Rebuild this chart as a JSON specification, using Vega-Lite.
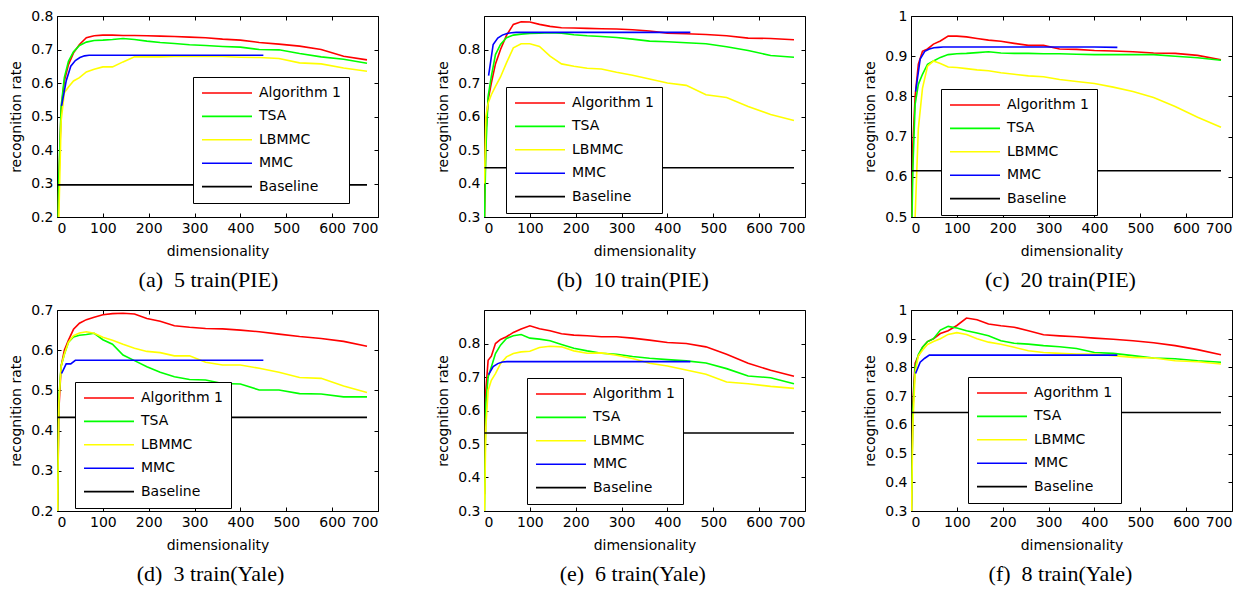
{
"$schema": "https://vega.github.io/schema/vega-lite/v6.json",
"background": "white",
"padding": {"left": 9, "top": 8, "right": 5, "bottom": 5},
"datasets": {"rates": [
{"panel":"a","method":"Algorithm 1","dim":1,"rate":0.1},{"panel":"a","method":"Algorithm 1","dim":4,"rate":0.3},{"panel":"a","method":"Algorithm 1","dim":9,"rate":0.52},{"panel":"a","method":"Algorithm 1","dim":16,"rate":0.606},{"panel":"a","method":"Algorithm 1","dim":25,"rate":0.655},{"panel":"a","method":"Algorithm 1","dim":36,"rate":0.69},{"panel":"a","method":"Algorithm 1","dim":49,"rate":0.715},{"panel":"a","method":"Algorithm 1","dim":64,"rate":0.735},{"panel":"a","method":"Algorithm 1","dim":81,"rate":0.741},{"panel":"a","method":"Algorithm 1","dim":100,"rate":0.743},{"panel":"a","method":"Algorithm 1","dim":121,"rate":0.743},{"panel":"a","method":"Algorithm 1","dim":144,"rate":0.742},{"panel":"a","method":"Algorithm 1","dim":169,"rate":0.742},{"panel":"a","method":"Algorithm 1","dim":196,"rate":0.741},{"panel":"a","method":"Algorithm 1","dim":225,"rate":0.74},{"panel":"a","method":"Algorithm 1","dim":256,"rate":0.739},{"panel":"a","method":"Algorithm 1","dim":289,"rate":0.737},{"panel":"a","method":"Algorithm 1","dim":324,"rate":0.735},{"panel":"a","method":"Algorithm 1","dim":361,"rate":0.731},{"panel":"a","method":"Algorithm 1","dim":400,"rate":0.728},{"panel":"a","method":"Algorithm 1","dim":441,"rate":0.721},{"panel":"a","method":"Algorithm 1","dim":484,"rate":0.716},{"panel":"a","method":"Algorithm 1","dim":529,"rate":0.71},{"panel":"a","method":"Algorithm 1","dim":576,"rate":0.7},{"panel":"a","method":"Algorithm 1","dim":625,"rate":0.68},{"panel":"a","method":"Algorithm 1","dim":676,"rate":0.669},
{"panel":"a","method":"TSA","dim":1,"rate":0.1},{"panel":"a","method":"TSA","dim":4,"rate":0.32},{"panel":"a","method":"TSA","dim":9,"rate":0.53},{"panel":"a","method":"TSA","dim":16,"rate":0.616},{"panel":"a","method":"TSA","dim":25,"rate":0.665},{"panel":"a","method":"TSA","dim":36,"rate":0.693},{"panel":"a","method":"TSA","dim":49,"rate":0.712},{"panel":"a","method":"TSA","dim":64,"rate":0.722},{"panel":"a","method":"TSA","dim":81,"rate":0.727},{"panel":"a","method":"TSA","dim":100,"rate":0.728},{"panel":"a","method":"TSA","dim":121,"rate":0.73},{"panel":"a","method":"TSA","dim":144,"rate":0.733},{"panel":"a","method":"TSA","dim":169,"rate":0.73},{"panel":"a","method":"TSA","dim":196,"rate":0.725},{"panel":"a","method":"TSA","dim":225,"rate":0.721},{"panel":"a","method":"TSA","dim":256,"rate":0.718},{"panel":"a","method":"TSA","dim":289,"rate":0.714},{"panel":"a","method":"TSA","dim":324,"rate":0.712},{"panel":"a","method":"TSA","dim":361,"rate":0.709},{"panel":"a","method":"TSA","dim":400,"rate":0.707},{"panel":"a","method":"TSA","dim":441,"rate":0.7},{"panel":"a","method":"TSA","dim":484,"rate":0.699},{"panel":"a","method":"TSA","dim":529,"rate":0.688},{"panel":"a","method":"TSA","dim":576,"rate":0.678},{"panel":"a","method":"TSA","dim":625,"rate":0.671},{"panel":"a","method":"TSA","dim":676,"rate":0.659},
{"panel":"a","method":"LBMMC","dim":1,"rate":0.1},{"panel":"a","method":"LBMMC","dim":4,"rate":0.2},{"panel":"a","method":"LBMMC","dim":9,"rate":0.487},{"panel":"a","method":"LBMMC","dim":16,"rate":0.571},{"panel":"a","method":"LBMMC","dim":25,"rate":0.588},{"panel":"a","method":"LBMMC","dim":36,"rate":0.606},{"panel":"a","method":"LBMMC","dim":49,"rate":0.616},{"panel":"a","method":"LBMMC","dim":64,"rate":0.633},{"panel":"a","method":"LBMMC","dim":81,"rate":0.641},{"panel":"a","method":"LBMMC","dim":100,"rate":0.648},{"panel":"a","method":"LBMMC","dim":121,"rate":0.648},{"panel":"a","method":"LBMMC","dim":144,"rate":0.663},{"panel":"a","method":"LBMMC","dim":169,"rate":0.678},{"panel":"a","method":"LBMMC","dim":196,"rate":0.678},{"panel":"a","method":"LBMMC","dim":225,"rate":0.678},{"panel":"a","method":"LBMMC","dim":256,"rate":0.679},{"panel":"a","method":"LBMMC","dim":289,"rate":0.679},{"panel":"a","method":"LBMMC","dim":324,"rate":0.679},{"panel":"a","method":"LBMMC","dim":361,"rate":0.679},{"panel":"a","method":"LBMMC","dim":400,"rate":0.677},{"panel":"a","method":"LBMMC","dim":441,"rate":0.676},{"panel":"a","method":"LBMMC","dim":484,"rate":0.673},{"panel":"a","method":"LBMMC","dim":529,"rate":0.66},{"panel":"a","method":"LBMMC","dim":576,"rate":0.657},{"panel":"a","method":"LBMMC","dim":625,"rate":0.645},{"panel":"a","method":"LBMMC","dim":676,"rate":0.635},
{"panel":"a","method":"MMC","dim":10,"rate":0.532},{"panel":"a","method":"MMC","dim":20,"rate":0.606},{"panel":"a","method":"MMC","dim":30,"rate":0.65},{"panel":"a","method":"MMC","dim":40,"rate":0.667},{"panel":"a","method":"MMC","dim":50,"rate":0.676},{"panel":"a","method":"MMC","dim":60,"rate":0.681},{"panel":"a","method":"MMC","dim":70,"rate":0.683},{"panel":"a","method":"MMC","dim":100,"rate":0.683},{"panel":"a","method":"MMC","dim":200,"rate":0.683},{"panel":"a","method":"MMC","dim":300,"rate":0.683},{"panel":"a","method":"MMC","dim":400,"rate":0.683},{"panel":"a","method":"MMC","dim":450,"rate":0.683},
{"panel":"a","method":"Baseline","dim":1,"rate":0.296},{"panel":"a","method":"Baseline","dim":676,"rate":0.296},

{"panel":"b","method":"Algorithm 1","dim":1,"rate":0.29},{"panel":"b","method":"Algorithm 1","dim":4,"rate":0.55},{"panel":"b","method":"Algorithm 1","dim":9,"rate":0.65},{"panel":"b","method":"Algorithm 1","dim":16,"rate":0.7},{"panel":"b","method":"Algorithm 1","dim":25,"rate":0.757},{"panel":"b","method":"Algorithm 1","dim":36,"rate":0.8},{"panel":"b","method":"Algorithm 1","dim":49,"rate":0.842},{"panel":"b","method":"Algorithm 1","dim":64,"rate":0.875},{"panel":"b","method":"Algorithm 1","dim":81,"rate":0.883},{"panel":"b","method":"Algorithm 1","dim":100,"rate":0.882},{"panel":"b","method":"Algorithm 1","dim":121,"rate":0.875},{"panel":"b","method":"Algorithm 1","dim":144,"rate":0.869},{"panel":"b","method":"Algorithm 1","dim":169,"rate":0.865},{"panel":"b","method":"Algorithm 1","dim":196,"rate":0.864},{"panel":"b","method":"Algorithm 1","dim":225,"rate":0.863},{"panel":"b","method":"Algorithm 1","dim":256,"rate":0.862},{"panel":"b","method":"Algorithm 1","dim":289,"rate":0.861},{"panel":"b","method":"Algorithm 1","dim":324,"rate":0.859},{"panel":"b","method":"Algorithm 1","dim":361,"rate":0.855},{"panel":"b","method":"Algorithm 1","dim":400,"rate":0.849},{"panel":"b","method":"Algorithm 1","dim":441,"rate":0.847},{"panel":"b","method":"Algorithm 1","dim":484,"rate":0.845},{"panel":"b","method":"Algorithm 1","dim":529,"rate":0.841},{"panel":"b","method":"Algorithm 1","dim":576,"rate":0.834},{"panel":"b","method":"Algorithm 1","dim":625,"rate":0.833},{"panel":"b","method":"Algorithm 1","dim":676,"rate":0.829},
{"panel":"b","method":"TSA","dim":1,"rate":0.28},{"panel":"b","method":"TSA","dim":4,"rate":0.5},{"panel":"b","method":"TSA","dim":9,"rate":0.66},{"panel":"b","method":"TSA","dim":16,"rate":0.72},{"panel":"b","method":"TSA","dim":25,"rate":0.785},{"panel":"b","method":"TSA","dim":36,"rate":0.815},{"panel":"b","method":"TSA","dim":49,"rate":0.835},{"panel":"b","method":"TSA","dim":64,"rate":0.843},{"panel":"b","method":"TSA","dim":81,"rate":0.846},{"panel":"b","method":"TSA","dim":100,"rate":0.848},{"panel":"b","method":"TSA","dim":121,"rate":0.849},{"panel":"b","method":"TSA","dim":144,"rate":0.85},{"panel":"b","method":"TSA","dim":169,"rate":0.849},{"panel":"b","method":"TSA","dim":196,"rate":0.844},{"panel":"b","method":"TSA","dim":225,"rate":0.841},{"panel":"b","method":"TSA","dim":256,"rate":0.839},{"panel":"b","method":"TSA","dim":289,"rate":0.836},{"panel":"b","method":"TSA","dim":324,"rate":0.831},{"panel":"b","method":"TSA","dim":361,"rate":0.825},{"panel":"b","method":"TSA","dim":400,"rate":0.823},{"panel":"b","method":"TSA","dim":441,"rate":0.82},{"panel":"b","method":"TSA","dim":484,"rate":0.817},{"panel":"b","method":"TSA","dim":529,"rate":0.808},{"panel":"b","method":"TSA","dim":576,"rate":0.797},{"panel":"b","method":"TSA","dim":625,"rate":0.782},{"panel":"b","method":"TSA","dim":676,"rate":0.777},
{"panel":"b","method":"LBMMC","dim":1,"rate":0.4},{"panel":"b","method":"LBMMC","dim":4,"rate":0.6},{"panel":"b","method":"LBMMC","dim":9,"rate":0.64},{"panel":"b","method":"LBMMC","dim":16,"rate":0.665},{"panel":"b","method":"LBMMC","dim":25,"rate":0.69},{"panel":"b","method":"LBMMC","dim":36,"rate":0.718},{"panel":"b","method":"LBMMC","dim":49,"rate":0.76},{"panel":"b","method":"LBMMC","dim":64,"rate":0.805},{"panel":"b","method":"LBMMC","dim":81,"rate":0.817},{"panel":"b","method":"LBMMC","dim":100,"rate":0.817},{"panel":"b","method":"LBMMC","dim":121,"rate":0.809},{"panel":"b","method":"LBMMC","dim":144,"rate":0.78},{"panel":"b","method":"LBMMC","dim":169,"rate":0.757},{"panel":"b","method":"LBMMC","dim":196,"rate":0.75},{"panel":"b","method":"LBMMC","dim":225,"rate":0.744},{"panel":"b","method":"LBMMC","dim":256,"rate":0.742},{"panel":"b","method":"LBMMC","dim":289,"rate":0.732},{"panel":"b","method":"LBMMC","dim":324,"rate":0.723},{"panel":"b","method":"LBMMC","dim":361,"rate":0.712},{"panel":"b","method":"LBMMC","dim":400,"rate":0.7},{"panel":"b","method":"LBMMC","dim":441,"rate":0.693},{"panel":"b","method":"LBMMC","dim":484,"rate":0.665},{"panel":"b","method":"LBMMC","dim":529,"rate":0.657},{"panel":"b","method":"LBMMC","dim":576,"rate":0.63},{"panel":"b","method":"LBMMC","dim":625,"rate":0.606},{"panel":"b","method":"LBMMC","dim":676,"rate":0.588},
{"panel":"b","method":"MMC","dim":10,"rate":0.722},{"panel":"b","method":"MMC","dim":20,"rate":0.815},{"panel":"b","method":"MMC","dim":30,"rate":0.834},{"panel":"b","method":"MMC","dim":40,"rate":0.843},{"panel":"b","method":"MMC","dim":50,"rate":0.848},{"panel":"b","method":"MMC","dim":60,"rate":0.85},{"panel":"b","method":"MMC","dim":70,"rate":0.851},{"panel":"b","method":"MMC","dim":100,"rate":0.851},{"panel":"b","method":"MMC","dim":200,"rate":0.851},{"panel":"b","method":"MMC","dim":300,"rate":0.851},{"panel":"b","method":"MMC","dim":400,"rate":0.851},{"panel":"b","method":"MMC","dim":450,"rate":0.851},
{"panel":"b","method":"Baseline","dim":1,"rate":0.447},{"panel":"b","method":"Baseline","dim":676,"rate":0.447},

{"panel":"c","method":"Algorithm 1","dim":1,"rate":0.45},{"panel":"c","method":"Algorithm 1","dim":4,"rate":0.68},{"panel":"c","method":"Algorithm 1","dim":9,"rate":0.8},{"panel":"c","method":"Algorithm 1","dim":16,"rate":0.88},{"panel":"c","method":"Algorithm 1","dim":25,"rate":0.912},{"panel":"c","method":"Algorithm 1","dim":36,"rate":0.918},{"panel":"c","method":"Algorithm 1","dim":49,"rate":0.93},{"panel":"c","method":"Algorithm 1","dim":64,"rate":0.938},{"panel":"c","method":"Algorithm 1","dim":81,"rate":0.95},{"panel":"c","method":"Algorithm 1","dim":100,"rate":0.95},{"panel":"c","method":"Algorithm 1","dim":121,"rate":0.948},{"panel":"c","method":"Algorithm 1","dim":144,"rate":0.944},{"panel":"c","method":"Algorithm 1","dim":169,"rate":0.94},{"panel":"c","method":"Algorithm 1","dim":196,"rate":0.937},{"panel":"c","method":"Algorithm 1","dim":225,"rate":0.932},{"panel":"c","method":"Algorithm 1","dim":256,"rate":0.927},{"panel":"c","method":"Algorithm 1","dim":289,"rate":0.927},{"panel":"c","method":"Algorithm 1","dim":324,"rate":0.918},{"panel":"c","method":"Algorithm 1","dim":361,"rate":0.917},{"panel":"c","method":"Algorithm 1","dim":400,"rate":0.914},{"panel":"c","method":"Algorithm 1","dim":441,"rate":0.913},{"panel":"c","method":"Algorithm 1","dim":484,"rate":0.911},{"panel":"c","method":"Algorithm 1","dim":529,"rate":0.908},{"panel":"c","method":"Algorithm 1","dim":576,"rate":0.907},{"panel":"c","method":"Algorithm 1","dim":625,"rate":0.902},{"panel":"c","method":"Algorithm 1","dim":676,"rate":0.891},
{"panel":"c","method":"TSA","dim":1,"rate":0.42},{"panel":"c","method":"TSA","dim":4,"rate":0.62},{"panel":"c","method":"TSA","dim":9,"rate":0.78},{"panel":"c","method":"TSA","dim":16,"rate":0.83},{"panel":"c","method":"TSA","dim":25,"rate":0.855},{"panel":"c","method":"TSA","dim":36,"rate":0.88},{"panel":"c","method":"TSA","dim":49,"rate":0.888},{"panel":"c","method":"TSA","dim":64,"rate":0.897},{"panel":"c","method":"TSA","dim":81,"rate":0.904},{"panel":"c","method":"TSA","dim":100,"rate":0.906},{"panel":"c","method":"TSA","dim":121,"rate":0.907},{"panel":"c","method":"TSA","dim":144,"rate":0.909},{"panel":"c","method":"TSA","dim":169,"rate":0.911},{"panel":"c","method":"TSA","dim":196,"rate":0.908},{"panel":"c","method":"TSA","dim":225,"rate":0.907},{"panel":"c","method":"TSA","dim":256,"rate":0.907},{"panel":"c","method":"TSA","dim":289,"rate":0.906},{"panel":"c","method":"TSA","dim":324,"rate":0.906},{"panel":"c","method":"TSA","dim":361,"rate":0.905},{"panel":"c","method":"TSA","dim":400,"rate":0.904},{"panel":"c","method":"TSA","dim":441,"rate":0.904},{"panel":"c","method":"TSA","dim":484,"rate":0.904},{"panel":"c","method":"TSA","dim":529,"rate":0.904},{"panel":"c","method":"TSA","dim":576,"rate":0.9},{"panel":"c","method":"TSA","dim":625,"rate":0.896},{"panel":"c","method":"TSA","dim":676,"rate":0.89},
{"panel":"c","method":"LBMMC","dim":1,"rate":0.38},{"panel":"c","method":"LBMMC","dim":4,"rate":0.42},{"panel":"c","method":"LBMMC","dim":9,"rate":0.5},{"panel":"c","method":"LBMMC","dim":16,"rate":0.72},{"panel":"c","method":"LBMMC","dim":25,"rate":0.82},{"panel":"c","method":"LBMMC","dim":36,"rate":0.875},{"panel":"c","method":"LBMMC","dim":49,"rate":0.888},{"panel":"c","method":"LBMMC","dim":64,"rate":0.882},{"panel":"c","method":"LBMMC","dim":81,"rate":0.873},{"panel":"c","method":"LBMMC","dim":100,"rate":0.872},{"panel":"c","method":"LBMMC","dim":121,"rate":0.869},{"panel":"c","method":"LBMMC","dim":144,"rate":0.866},{"panel":"c","method":"LBMMC","dim":169,"rate":0.864},{"panel":"c","method":"LBMMC","dim":196,"rate":0.859},{"panel":"c","method":"LBMMC","dim":225,"rate":0.855},{"panel":"c","method":"LBMMC","dim":256,"rate":0.851},{"panel":"c","method":"LBMMC","dim":289,"rate":0.849},{"panel":"c","method":"LBMMC","dim":324,"rate":0.842},{"panel":"c","method":"LBMMC","dim":361,"rate":0.837},{"panel":"c","method":"LBMMC","dim":400,"rate":0.832},{"panel":"c","method":"LBMMC","dim":441,"rate":0.823},{"panel":"c","method":"LBMMC","dim":484,"rate":0.812},{"panel":"c","method":"LBMMC","dim":529,"rate":0.797},{"panel":"c","method":"LBMMC","dim":576,"rate":0.775},{"panel":"c","method":"LBMMC","dim":625,"rate":0.748},{"panel":"c","method":"LBMMC","dim":676,"rate":0.723},
{"panel":"c","method":"MMC","dim":10,"rate":0.812},{"panel":"c","method":"MMC","dim":20,"rate":0.893},{"panel":"c","method":"MMC","dim":30,"rate":0.912},{"panel":"c","method":"MMC","dim":40,"rate":0.918},{"panel":"c","method":"MMC","dim":50,"rate":0.921},{"panel":"c","method":"MMC","dim":60,"rate":0.922},{"panel":"c","method":"MMC","dim":70,"rate":0.923},{"panel":"c","method":"MMC","dim":100,"rate":0.923},{"panel":"c","method":"MMC","dim":200,"rate":0.923},{"panel":"c","method":"MMC","dim":300,"rate":0.923},{"panel":"c","method":"MMC","dim":400,"rate":0.923},{"panel":"c","method":"MMC","dim":450,"rate":0.922},
{"panel":"c","method":"Baseline","dim":1,"rate":0.615},{"panel":"c","method":"Baseline","dim":676,"rate":0.615},

{"panel":"d","method":"Algorithm 1","dim":1,"rate":0.18},{"panel":"d","method":"Algorithm 1","dim":4,"rate":0.45},{"panel":"d","method":"Algorithm 1","dim":9,"rate":0.56},{"panel":"d","method":"Algorithm 1","dim":16,"rate":0.6},{"panel":"d","method":"Algorithm 1","dim":25,"rate":0.625},{"panel":"d","method":"Algorithm 1","dim":36,"rate":0.652},{"panel":"d","method":"Algorithm 1","dim":49,"rate":0.667},{"panel":"d","method":"Algorithm 1","dim":64,"rate":0.676},{"panel":"d","method":"Algorithm 1","dim":81,"rate":0.682},{"panel":"d","method":"Algorithm 1","dim":100,"rate":0.688},{"panel":"d","method":"Algorithm 1","dim":121,"rate":0.691},{"panel":"d","method":"Algorithm 1","dim":144,"rate":0.692},{"panel":"d","method":"Algorithm 1","dim":169,"rate":0.69},{"panel":"d","method":"Algorithm 1","dim":196,"rate":0.679},{"panel":"d","method":"Algorithm 1","dim":225,"rate":0.672},{"panel":"d","method":"Algorithm 1","dim":256,"rate":0.661},{"panel":"d","method":"Algorithm 1","dim":289,"rate":0.657},{"panel":"d","method":"Algorithm 1","dim":324,"rate":0.654},{"panel":"d","method":"Algorithm 1","dim":361,"rate":0.653},{"panel":"d","method":"Algorithm 1","dim":400,"rate":0.65},{"panel":"d","method":"Algorithm 1","dim":441,"rate":0.646},{"panel":"d","method":"Algorithm 1","dim":484,"rate":0.64},{"panel":"d","method":"Algorithm 1","dim":529,"rate":0.634},{"panel":"d","method":"Algorithm 1","dim":576,"rate":0.629},{"panel":"d","method":"Algorithm 1","dim":625,"rate":0.622},{"panel":"d","method":"Algorithm 1","dim":676,"rate":0.61},
{"panel":"d","method":"TSA","dim":1,"rate":0.18},{"panel":"d","method":"TSA","dim":4,"rate":0.48},{"panel":"d","method":"TSA","dim":9,"rate":0.56},{"panel":"d","method":"TSA","dim":16,"rate":0.59},{"panel":"d","method":"TSA","dim":25,"rate":0.62},{"panel":"d","method":"TSA","dim":36,"rate":0.633},{"panel":"d","method":"TSA","dim":49,"rate":0.637},{"panel":"d","method":"TSA","dim":64,"rate":0.639},{"panel":"d","method":"TSA","dim":81,"rate":0.642},{"panel":"d","method":"TSA","dim":100,"rate":0.626},{"panel":"d","method":"TSA","dim":121,"rate":0.615},{"panel":"d","method":"TSA","dim":144,"rate":0.588},{"panel":"d","method":"TSA","dim":169,"rate":0.574},{"panel":"d","method":"TSA","dim":196,"rate":0.559},{"panel":"d","method":"TSA","dim":225,"rate":0.545},{"panel":"d","method":"TSA","dim":256,"rate":0.534},{"panel":"d","method":"TSA","dim":289,"rate":0.527},{"panel":"d","method":"TSA","dim":324,"rate":0.526},{"panel":"d","method":"TSA","dim":361,"rate":0.517},{"panel":"d","method":"TSA","dim":400,"rate":0.516},{"panel":"d","method":"TSA","dim":441,"rate":0.501},{"panel":"d","method":"TSA","dim":484,"rate":0.501},{"panel":"d","method":"TSA","dim":529,"rate":0.492},{"panel":"d","method":"TSA","dim":576,"rate":0.491},{"panel":"d","method":"TSA","dim":625,"rate":0.484},{"panel":"d","method":"TSA","dim":676,"rate":0.484},
{"panel":"d","method":"LBMMC","dim":1,"rate":0.18},{"panel":"d","method":"LBMMC","dim":4,"rate":0.47},{"panel":"d","method":"LBMMC","dim":9,"rate":0.56},{"panel":"d","method":"LBMMC","dim":16,"rate":0.59},{"panel":"d","method":"LBMMC","dim":25,"rate":0.62},{"panel":"d","method":"LBMMC","dim":36,"rate":0.636},{"panel":"d","method":"LBMMC","dim":49,"rate":0.643},{"panel":"d","method":"LBMMC","dim":64,"rate":0.646},{"panel":"d","method":"LBMMC","dim":81,"rate":0.642},{"panel":"d","method":"LBMMC","dim":100,"rate":0.632},{"panel":"d","method":"LBMMC","dim":121,"rate":0.625},{"panel":"d","method":"LBMMC","dim":144,"rate":0.615},{"panel":"d","method":"LBMMC","dim":169,"rate":0.605},{"panel":"d","method":"LBMMC","dim":196,"rate":0.597},{"panel":"d","method":"LBMMC","dim":225,"rate":0.594},{"panel":"d","method":"LBMMC","dim":256,"rate":0.586},{"panel":"d","method":"LBMMC","dim":289,"rate":0.586},{"panel":"d","method":"LBMMC","dim":324,"rate":0.57},{"panel":"d","method":"LBMMC","dim":361,"rate":0.563},{"panel":"d","method":"LBMMC","dim":400,"rate":0.563},{"panel":"d","method":"LBMMC","dim":441,"rate":0.555},{"panel":"d","method":"LBMMC","dim":484,"rate":0.545},{"panel":"d","method":"LBMMC","dim":529,"rate":0.532},{"panel":"d","method":"LBMMC","dim":576,"rate":0.53},{"panel":"d","method":"LBMMC","dim":625,"rate":0.511},{"panel":"d","method":"LBMMC","dim":676,"rate":0.495},
{"panel":"d","method":"MMC","dim":10,"rate":0.542},{"panel":"d","method":"MMC","dim":20,"rate":0.566},{"panel":"d","method":"MMC","dim":30,"rate":0.566},{"panel":"d","method":"MMC","dim":40,"rate":0.575},{"panel":"d","method":"MMC","dim":50,"rate":0.575},{"panel":"d","method":"MMC","dim":100,"rate":0.575},{"panel":"d","method":"MMC","dim":200,"rate":0.575},{"panel":"d","method":"MMC","dim":300,"rate":0.575},{"panel":"d","method":"MMC","dim":400,"rate":0.575},{"panel":"d","method":"MMC","dim":450,"rate":0.575},
{"panel":"d","method":"Baseline","dim":1,"rate":0.433},{"panel":"d","method":"Baseline","dim":676,"rate":0.433},

{"panel":"e","method":"Algorithm 1","dim":1,"rate":0.35},{"panel":"e","method":"Algorithm 1","dim":4,"rate":0.66},{"panel":"e","method":"Algorithm 1","dim":9,"rate":0.75},{"panel":"e","method":"Algorithm 1","dim":16,"rate":0.762},{"panel":"e","method":"Algorithm 1","dim":25,"rate":0.8},{"panel":"e","method":"Algorithm 1","dim":36,"rate":0.812},{"panel":"e","method":"Algorithm 1","dim":49,"rate":0.82},{"panel":"e","method":"Algorithm 1","dim":64,"rate":0.833},{"panel":"e","method":"Algorithm 1","dim":81,"rate":0.843},{"panel":"e","method":"Algorithm 1","dim":100,"rate":0.853},{"panel":"e","method":"Algorithm 1","dim":121,"rate":0.844},{"panel":"e","method":"Algorithm 1","dim":144,"rate":0.838},{"panel":"e","method":"Algorithm 1","dim":169,"rate":0.829},{"panel":"e","method":"Algorithm 1","dim":196,"rate":0.825},{"panel":"e","method":"Algorithm 1","dim":225,"rate":0.823},{"panel":"e","method":"Algorithm 1","dim":256,"rate":0.82},{"panel":"e","method":"Algorithm 1","dim":289,"rate":0.82},{"panel":"e","method":"Algorithm 1","dim":324,"rate":0.816},{"panel":"e","method":"Algorithm 1","dim":361,"rate":0.81},{"panel":"e","method":"Algorithm 1","dim":400,"rate":0.803},{"panel":"e","method":"Algorithm 1","dim":441,"rate":0.8},{"panel":"e","method":"Algorithm 1","dim":484,"rate":0.79},{"panel":"e","method":"Algorithm 1","dim":529,"rate":0.768},{"panel":"e","method":"Algorithm 1","dim":576,"rate":0.741},{"panel":"e","method":"Algorithm 1","dim":625,"rate":0.72},{"panel":"e","method":"Algorithm 1","dim":676,"rate":0.702},
{"panel":"e","method":"TSA","dim":1,"rate":0.3},{"panel":"e","method":"TSA","dim":4,"rate":0.62},{"panel":"e","method":"TSA","dim":9,"rate":0.7},{"panel":"e","method":"TSA","dim":16,"rate":0.73},{"panel":"e","method":"TSA","dim":25,"rate":0.77},{"panel":"e","method":"TSA","dim":36,"rate":0.795},{"panel":"e","method":"TSA","dim":49,"rate":0.815},{"panel":"e","method":"TSA","dim":64,"rate":0.823},{"panel":"e","method":"TSA","dim":81,"rate":0.827},{"panel":"e","method":"TSA","dim":100,"rate":0.816},{"panel":"e","method":"TSA","dim":121,"rate":0.813},{"panel":"e","method":"TSA","dim":144,"rate":0.808},{"panel":"e","method":"TSA","dim":169,"rate":0.797},{"panel":"e","method":"TSA","dim":196,"rate":0.786},{"panel":"e","method":"TSA","dim":225,"rate":0.778},{"panel":"e","method":"TSA","dim":256,"rate":0.771},{"panel":"e","method":"TSA","dim":289,"rate":0.768},{"panel":"e","method":"TSA","dim":324,"rate":0.761},{"panel":"e","method":"TSA","dim":361,"rate":0.756},{"panel":"e","method":"TSA","dim":400,"rate":0.752},{"panel":"e","method":"TSA","dim":441,"rate":0.748},{"panel":"e","method":"TSA","dim":484,"rate":0.742},{"panel":"e","method":"TSA","dim":529,"rate":0.725},{"panel":"e","method":"TSA","dim":576,"rate":0.703},{"panel":"e","method":"TSA","dim":625,"rate":0.698},{"panel":"e","method":"TSA","dim":676,"rate":0.68},
{"panel":"e","method":"LBMMC","dim":1,"rate":0.28},{"panel":"e","method":"LBMMC","dim":4,"rate":0.55},{"panel":"e","method":"LBMMC","dim":9,"rate":0.66},{"panel":"e","method":"LBMMC","dim":16,"rate":0.69},{"panel":"e","method":"LBMMC","dim":25,"rate":0.71},{"panel":"e","method":"LBMMC","dim":36,"rate":0.74},{"panel":"e","method":"LBMMC","dim":49,"rate":0.76},{"panel":"e","method":"LBMMC","dim":64,"rate":0.77},{"panel":"e","method":"LBMMC","dim":81,"rate":0.775},{"panel":"e","method":"LBMMC","dim":100,"rate":0.777},{"panel":"e","method":"LBMMC","dim":121,"rate":0.788},{"panel":"e","method":"LBMMC","dim":144,"rate":0.792},{"panel":"e","method":"LBMMC","dim":169,"rate":0.79},{"panel":"e","method":"LBMMC","dim":196,"rate":0.778},{"panel":"e","method":"LBMMC","dim":225,"rate":0.771},{"panel":"e","method":"LBMMC","dim":256,"rate":0.772},{"panel":"e","method":"LBMMC","dim":289,"rate":0.765},{"panel":"e","method":"LBMMC","dim":324,"rate":0.755},{"panel":"e","method":"LBMMC","dim":361,"rate":0.741},{"panel":"e","method":"LBMMC","dim":400,"rate":0.733},{"panel":"e","method":"LBMMC","dim":441,"rate":0.721},{"panel":"e","method":"LBMMC","dim":484,"rate":0.708},{"panel":"e","method":"LBMMC","dim":529,"rate":0.685},{"panel":"e","method":"LBMMC","dim":576,"rate":0.68},{"panel":"e","method":"LBMMC","dim":625,"rate":0.672},{"panel":"e","method":"LBMMC","dim":676,"rate":0.666},
{"panel":"e","method":"MMC","dim":10,"rate":0.707},{"panel":"e","method":"MMC","dim":20,"rate":0.731},{"panel":"e","method":"MMC","dim":30,"rate":0.74},{"panel":"e","method":"MMC","dim":40,"rate":0.745},{"panel":"e","method":"MMC","dim":50,"rate":0.746},{"panel":"e","method":"MMC","dim":100,"rate":0.746},{"panel":"e","method":"MMC","dim":200,"rate":0.746},{"panel":"e","method":"MMC","dim":300,"rate":0.746},{"panel":"e","method":"MMC","dim":400,"rate":0.746},{"panel":"e","method":"MMC","dim":450,"rate":0.746},
{"panel":"e","method":"Baseline","dim":1,"rate":0.533},{"panel":"e","method":"Baseline","dim":676,"rate":0.533},

{"panel":"f","method":"Agorithm 1","dim":1,"rate":0.3},{"panel":"f","method":"Agorithm 1","dim":4,"rate":0.68},{"panel":"f","method":"Agorithm 1","dim":9,"rate":0.815},{"panel":"f","method":"Agorithm 1","dim":16,"rate":0.84},{"panel":"f","method":"Agorithm 1","dim":25,"rate":0.87},{"panel":"f","method":"Agorithm 1","dim":36,"rate":0.89},{"panel":"f","method":"Agorithm 1","dim":49,"rate":0.9},{"panel":"f","method":"Agorithm 1","dim":64,"rate":0.918},{"panel":"f","method":"Agorithm 1","dim":81,"rate":0.928},{"panel":"f","method":"Agorithm 1","dim":100,"rate":0.946},{"panel":"f","method":"Agorithm 1","dim":121,"rate":0.972},{"panel":"f","method":"Agorithm 1","dim":144,"rate":0.966},{"panel":"f","method":"Agorithm 1","dim":169,"rate":0.951},{"panel":"f","method":"Agorithm 1","dim":196,"rate":0.945},{"panel":"f","method":"Agorithm 1","dim":225,"rate":0.94},{"panel":"f","method":"Agorithm 1","dim":256,"rate":0.928},{"panel":"f","method":"Agorithm 1","dim":289,"rate":0.914},{"panel":"f","method":"Agorithm 1","dim":324,"rate":0.91},{"panel":"f","method":"Agorithm 1","dim":361,"rate":0.907},{"panel":"f","method":"Agorithm 1","dim":400,"rate":0.902},{"panel":"f","method":"Agorithm 1","dim":441,"rate":0.898},{"panel":"f","method":"Agorithm 1","dim":484,"rate":0.893},{"panel":"f","method":"Agorithm 1","dim":529,"rate":0.886},{"panel":"f","method":"Agorithm 1","dim":576,"rate":0.876},{"panel":"f","method":"Agorithm 1","dim":625,"rate":0.862},{"panel":"f","method":"Agorithm 1","dim":676,"rate":0.844},
{"panel":"f","method":"TSA","dim":1,"rate":0.3},{"panel":"f","method":"TSA","dim":4,"rate":0.65},{"panel":"f","method":"TSA","dim":9,"rate":0.8},{"panel":"f","method":"TSA","dim":16,"rate":0.845},{"panel":"f","method":"TSA","dim":25,"rate":0.87},{"panel":"f","method":"TSA","dim":36,"rate":0.89},{"panel":"f","method":"TSA","dim":49,"rate":0.9},{"panel":"f","method":"TSA","dim":64,"rate":0.93},{"panel":"f","method":"TSA","dim":81,"rate":0.943},{"panel":"f","method":"TSA","dim":100,"rate":0.937},{"panel":"f","method":"TSA","dim":121,"rate":0.928},{"panel":"f","method":"TSA","dim":144,"rate":0.92},{"panel":"f","method":"TSA","dim":169,"rate":0.91},{"panel":"f","method":"TSA","dim":196,"rate":0.893},{"panel":"f","method":"TSA","dim":225,"rate":0.884},{"panel":"f","method":"TSA","dim":256,"rate":0.881},{"panel":"f","method":"TSA","dim":289,"rate":0.876},{"panel":"f","method":"TSA","dim":324,"rate":0.872},{"panel":"f","method":"TSA","dim":361,"rate":0.866},{"panel":"f","method":"TSA","dim":400,"rate":0.852},{"panel":"f","method":"TSA","dim":441,"rate":0.849},{"panel":"f","method":"TSA","dim":484,"rate":0.841},{"panel":"f","method":"TSA","dim":529,"rate":0.833},{"panel":"f","method":"TSA","dim":576,"rate":0.83},{"panel":"f","method":"TSA","dim":625,"rate":0.823},{"panel":"f","method":"TSA","dim":676,"rate":0.818},
{"panel":"f","method":"LBMMC","dim":1,"rate":0.28},{"panel":"f","method":"LBMMC","dim":4,"rate":0.6},{"panel":"f","method":"LBMMC","dim":9,"rate":0.78},{"panel":"f","method":"LBMMC","dim":16,"rate":0.84},{"panel":"f","method":"LBMMC","dim":25,"rate":0.86},{"panel":"f","method":"LBMMC","dim":36,"rate":0.88},{"panel":"f","method":"LBMMC","dim":49,"rate":0.89},{"panel":"f","method":"LBMMC","dim":64,"rate":0.9},{"panel":"f","method":"LBMMC","dim":81,"rate":0.915},{"panel":"f","method":"LBMMC","dim":100,"rate":0.921},{"panel":"f","method":"LBMMC","dim":121,"rate":0.915},{"panel":"f","method":"LBMMC","dim":144,"rate":0.9},{"panel":"f","method":"LBMMC","dim":169,"rate":0.888},{"panel":"f","method":"LBMMC","dim":196,"rate":0.881},{"panel":"f","method":"LBMMC","dim":225,"rate":0.87},{"panel":"f","method":"LBMMC","dim":256,"rate":0.858},{"panel":"f","method":"LBMMC","dim":289,"rate":0.852},{"panel":"f","method":"LBMMC","dim":324,"rate":0.849},{"panel":"f","method":"LBMMC","dim":361,"rate":0.847},{"panel":"f","method":"LBMMC","dim":400,"rate":0.847},{"panel":"f","method":"LBMMC","dim":441,"rate":0.841},{"panel":"f","method":"LBMMC","dim":484,"rate":0.835},{"panel":"f","method":"LBMMC","dim":529,"rate":0.833},{"panel":"f","method":"LBMMC","dim":576,"rate":0.823},{"panel":"f","method":"LBMMC","dim":625,"rate":0.82},{"panel":"f","method":"LBMMC","dim":676,"rate":0.812},
{"panel":"f","method":"MMC","dim":10,"rate":0.779},{"panel":"f","method":"MMC","dim":20,"rate":0.818},{"panel":"f","method":"MMC","dim":30,"rate":0.832},{"panel":"f","method":"MMC","dim":40,"rate":0.843},{"panel":"f","method":"MMC","dim":50,"rate":0.843},{"panel":"f","method":"MMC","dim":100,"rate":0.843},{"panel":"f","method":"MMC","dim":200,"rate":0.843},{"panel":"f","method":"MMC","dim":300,"rate":0.843},{"panel":"f","method":"MMC","dim":400,"rate":0.843},{"panel":"f","method":"MMC","dim":450,"rate":0.843},
{"panel":"f","method":"Baseline","dim":1,"rate":0.643},{"panel":"f","method":"Baseline","dim":676,"rate":0.643}
]},
"data": {"name": "rates"},
"columns": 3,
"bounds": "flush",
"spacing": {"row": 93, "column": 106},
"resolve": {"scale": {"color": "independent"}, "legend": {"color": "independent"}},
"concat": [
{"width": 321, "height": 201,
 "transform": [{"filter": "datum.panel === 'a'"}],
 "title": {"text": "(a)\u00a0\u00a05 train(PIE)", "dx": -9},
 "layer": [
  {"transform": [{"filter": "datum.method !== 'Baseline'"}],
   "mark": {"type": "line", "clip": true},
   "encoding": {
    "x": {"field": "dim", "type": "quantitative", "scale": {"domain": [0, 700], "nice": false}, "axis": {"orient": "bottom", "title": "dimensionality", "values": [0,100,200,300,400,500,600,700]}},
    "y": {"field": "rate", "type": "quantitative", "scale": {"domain": [0.2, 0.8], "nice": false, "zero": false}, "axis": {"orient": "left", "title": "recognition rate", "values": [0.2,0.3,0.4,0.5,0.6,0.7,0.8], "format": ".1~f"}},
    "color": {"field": "method", "type": "nominal", "scale": {"domain": ["Algorithm 1","TSA","LBMMC","MMC","Baseline"], "range": ["#ff0000","#00ff00","#ffff00","#0000ff","#000000"]}, "legend": {"legendX": 136, "legendY": 61}}}},
  {"transform": [{"filter": "datum.method === 'Baseline'"}],
   "mark": {"type": "line", "clip": true},
   "encoding": {
    "x": {"field": "dim", "type": "quantitative", "axis": {"orient": "top", "title": null, "labels": false, "values": [0,100,200,300,400,500,600,700]}},
    "y": {"field": "rate", "type": "quantitative", "axis": {"orient": "right", "title": null, "labels": false, "values": [0.2,0.3,0.4,0.5,0.6,0.7,0.8]}},
    "color": {"field": "method", "type": "nominal"}}}
 ]},
{"width": 321, "height": 201,
 "transform": [{"filter": "datum.panel === 'b'"}],
 "title": {"text": "(b)\u00a0\u00a010 train(PIE)", "dx": -11.7},
 "layer": [
  {"transform": [{"filter": "datum.method !== 'Baseline'"}],
   "mark": {"type": "line", "clip": true},
   "encoding": {
    "x": {"field": "dim", "type": "quantitative", "scale": {"domain": [0, 700], "nice": false}, "axis": {"orient": "bottom", "title": "dimensionality", "values": [0,100,200,300,400,500,600,700]}},
    "y": {"field": "rate", "type": "quantitative", "scale": {"domain": [0.3, 0.9], "nice": false, "zero": false}, "axis": {"orient": "left", "title": "recognition rate", "values": [0.3,0.4,0.5,0.6,0.7,0.8], "format": ".1~f"}},
    "color": {"field": "method", "type": "nominal", "scale": {"domain": ["Algorithm 1","TSA","LBMMC","MMC","Baseline"], "range": ["#ff0000","#00ff00","#ffff00","#0000ff","#000000"]}, "legend": {"legendX": 22, "legendY": 71}}}},
  {"transform": [{"filter": "datum.method === 'Baseline'"}],
   "mark": {"type": "line", "clip": true},
   "encoding": {
    "x": {"field": "dim", "type": "quantitative", "axis": {"orient": "top", "title": null, "labels": false, "values": [0,100,200,300,400,500,600,700]}},
    "y": {"field": "rate", "type": "quantitative", "axis": {"orient": "right", "title": null, "labels": false, "values": [0.3,0.4,0.5,0.6,0.7,0.8]}},
    "color": {"field": "method", "type": "nominal"}}}
 ]},
{"width": 321, "height": 201,
 "transform": [{"filter": "datum.panel === 'c'"}],
 "title": {"text": "(c)\u00a0\u00a020 train(PIE)", "dx": -11},
 "layer": [
  {"transform": [{"filter": "datum.method !== 'Baseline'"}],
   "mark": {"type": "line", "clip": true},
   "encoding": {
    "x": {"field": "dim", "type": "quantitative", "scale": {"domain": [0, 700], "nice": false}, "axis": {"orient": "bottom", "title": "dimensionality", "values": [0,100,200,300,400,500,600,700]}},
    "y": {"field": "rate", "type": "quantitative", "scale": {"domain": [0.5, 1], "nice": false, "zero": false}, "axis": {"orient": "left", "title": "recognition rate", "values": [0.5,0.6,0.7,0.8,0.9,1], "format": ".1~f"}},
    "color": {"field": "method", "type": "nominal", "scale": {"domain": ["Algorithm 1","TSA","LBMMC","MMC","Baseline"], "range": ["#ff0000","#00ff00","#ffff00","#0000ff","#000000"]}, "legend": {"legendX": 30, "legendY": 73}}}},
  {"transform": [{"filter": "datum.method === 'Baseline'"}],
   "mark": {"type": "line", "clip": true},
   "encoding": {
    "x": {"field": "dim", "type": "quantitative", "axis": {"orient": "top", "title": null, "labels": false, "values": [0,100,200,300,400,500,600,700]}},
    "y": {"field": "rate", "type": "quantitative", "axis": {"orient": "right", "title": null, "labels": false, "values": [0.5,0.6,0.7,0.8,0.9,1]}},
    "color": {"field": "method", "type": "nominal"}}}
 ]},
{"width": 321, "height": 201,
 "transform": [{"filter": "datum.panel === 'd'"}],
 "title": {"text": "(d)\u00a0\u00a03 train(Yale)", "dx": -7},
 "layer": [
  {"transform": [{"filter": "datum.method !== 'Baseline'"}],
   "mark": {"type": "line", "clip": true},
   "encoding": {
    "x": {"field": "dim", "type": "quantitative", "scale": {"domain": [0, 700], "nice": false}, "axis": {"orient": "bottom", "title": "dimensionality", "values": [0,100,200,300,400,500,600,700]}},
    "y": {"field": "rate", "type": "quantitative", "scale": {"domain": [0.2, 0.7], "nice": false, "zero": false}, "axis": {"orient": "left", "title": "recognition rate", "values": [0.2,0.3,0.4,0.5,0.6,0.7], "format": ".1~f"}},
    "color": {"field": "method", "type": "nominal", "scale": {"domain": ["Algorithm 1","TSA","LBMMC","MMC","Baseline"], "range": ["#ff0000","#00ff00","#ffff00","#0000ff","#000000"]}, "legend": {"legendX": 18, "legendY": 72}}}},
  {"transform": [{"filter": "datum.method === 'Baseline'"}],
   "mark": {"type": "line", "clip": true},
   "encoding": {
    "x": {"field": "dim", "type": "quantitative", "axis": {"orient": "top", "title": null, "labels": false, "values": [0,100,200,300,400,500,600,700]}},
    "y": {"field": "rate", "type": "quantitative", "axis": {"orient": "right", "title": null, "labels": false, "values": [0.2,0.3,0.4,0.5,0.6,0.7]}},
    "color": {"field": "method", "type": "nominal"}}}
 ]},
{"width": 321, "height": 201,
 "transform": [{"filter": "datum.panel === 'e'"}],
 "title": {"text": "(e)\u00a0\u00a06 train(Yale)", "dx": -11.7},
 "layer": [
  {"transform": [{"filter": "datum.method !== 'Baseline'"}],
   "mark": {"type": "line", "clip": true},
   "encoding": {
    "x": {"field": "dim", "type": "quantitative", "scale": {"domain": [0, 700], "nice": false}, "axis": {"orient": "bottom", "title": "dimensionality", "values": [0,100,200,300,400,500,600,700]}},
    "y": {"field": "rate", "type": "quantitative", "scale": {"domain": [0.3, 0.9], "nice": false, "zero": false}, "axis": {"orient": "left", "title": "recognition rate", "values": [0.3,0.4,0.5,0.6,0.7,0.8], "format": ".1~f"}},
    "color": {"field": "method", "type": "nominal", "scale": {"domain": ["Algorithm 1","TSA","LBMMC","MMC","Baseline"], "range": ["#ff0000","#00ff00","#ffff00","#0000ff","#000000"]}, "legend": {"legendX": 43, "legendY": 68}}}},
  {"transform": [{"filter": "datum.method === 'Baseline'"}],
   "mark": {"type": "line", "clip": true},
   "encoding": {
    "x": {"field": "dim", "type": "quantitative", "axis": {"orient": "top", "title": null, "labels": false, "values": [0,100,200,300,400,500,600,700]}},
    "y": {"field": "rate", "type": "quantitative", "axis": {"orient": "right", "title": null, "labels": false, "values": [0.3,0.4,0.5,0.6,0.7,0.8]}},
    "color": {"field": "method", "type": "nominal"}}}
 ]},
{"width": 321, "height": 201,
 "transform": [{"filter": "datum.panel === 'f'"}],
 "title": {"text": "(f)\u00a0\u00a08 train(Yale)", "dx": -11},
 "layer": [
  {"transform": [{"filter": "datum.method !== 'Baseline'"}],
   "mark": {"type": "line", "clip": true},
   "encoding": {
    "x": {"field": "dim", "type": "quantitative", "scale": {"domain": [0, 700], "nice": false}, "axis": {"orient": "bottom", "title": "dimensionality", "values": [0,100,200,300,400,500,600,700]}},
    "y": {"field": "rate", "type": "quantitative", "scale": {"domain": [0.3, 1], "nice": false, "zero": false}, "axis": {"orient": "left", "title": "recognition rate", "values": [0.3,0.4,0.5,0.6,0.7,0.8,0.9,1], "format": ".1~f"}},
    "color": {"field": "method", "type": "nominal", "scale": {"domain": ["Agorithm 1","TSA","LBMMC","MMC","Baseline"], "range": ["#ff0000","#00ff00","#ffff00","#0000ff","#000000"]}, "legend": {"legendX": 57, "legendY": 67}}}},
  {"transform": [{"filter": "datum.method === 'Baseline'"}],
   "mark": {"type": "line", "clip": true},
   "encoding": {
    "x": {"field": "dim", "type": "quantitative", "axis": {"orient": "top", "title": null, "labels": false, "values": [0,100,200,300,400,500,600,700]}},
    "y": {"field": "rate", "type": "quantitative", "axis": {"orient": "right", "title": null, "labels": false, "values": [0.3,0.4,0.5,0.6,0.7,0.8,0.9,1]}},
    "color": {"field": "method", "type": "nominal"}}}
 ]}
],
"config": {
 "font": "DejaVu Sans",
 "view": {"stroke": "#000000", "strokeWidth": 1},
 "line": {"strokeWidth": 1.6},
 "axis": {"grid": false, "domain": false, "tickColor": "#000000", "tickSize": -4, "tickWidth": 1, "labelPadding": 8, "labelFont": "DejaVu Sans", "labelFontSize": 14, "labelColor": "#000000", "titleFont": "DejaVu Sans", "titleFontSize": 14, "titleFontWeight": "normal", "titleColor": "#000000", "titlePadding": 4},
 "axisX": {"titlePadding": 9},
 "axisY": {"titlePadding": 7},
 "legend": {"orient": "none", "title": null, "symbolType": "stroke", "symbolSize": 2500, "symbolStrokeWidth": 1.6, "clipHeight": 16, "labelFont": "DejaVu Sans", "labelFontSize": 14, "labelColor": "#000000", "labelOffset": 6, "rowPadding": 7.4, "padding": 8, "strokeColor": "#000000", "fillColor": "#ffffff", "offset": 0},
 "title": {"orient": "bottom", "font": "Liberation Serif", "fontSize": 22, "fontWeight": "normal", "color": "#000000", "anchor": "middle", "offset": 12}
}
}
